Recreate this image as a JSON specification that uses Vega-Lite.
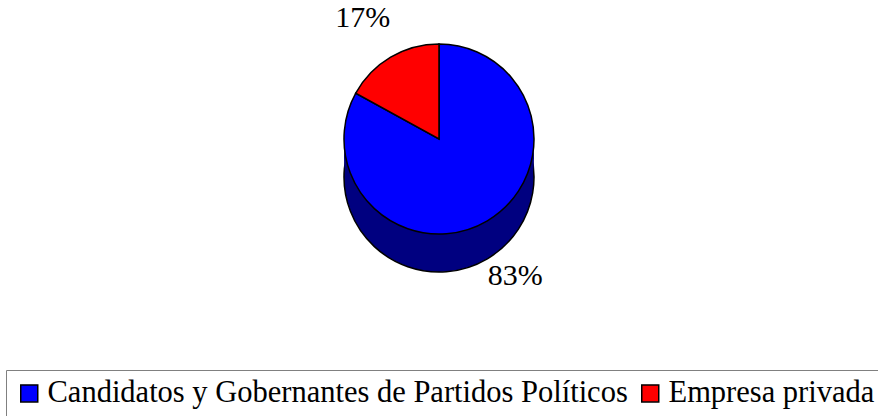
{
  "$schema": "https://vega.github.io/schema/vega-lite/v6.json",
  "width": 878,
  "height": 278,
  "autosize": {"type": "none"},
  "padding": {"left": 0, "top": 0, "right": 0, "bottom": 138},
  "background": "white",
  "data": {
    "values": [
      {"cat": "Candidatos y Gobernantes de Partidos Políticos", "value": 83, "label": "83%"},
      {"cat": "Empresa privada", "value": 17, "label": "17%"}
    ]
  },
  "layer": [
    {
      "mark": {"type": "arc", "outerRadius": 95, "yOffset": 38, "fill": "#000080", "stroke": "black", "strokeWidth": 1.5},
      "encoding": {
        "theta": {"field": "value", "type": "quantitative", "stack": true},
        "order": {"field": "value", "type": "quantitative", "sort": "descending"},
        "detail": {"field": "cat", "type": "nominal"}
      }
    },
    {
      "mark": {"type": "arc", "outerRadius": 95, "yOffset": 19, "fill": "#000080"},
      "encoding": {
        "theta": {"field": "value", "type": "quantitative", "stack": true},
        "order": {"field": "value", "type": "quantitative", "sort": "descending"},
        "detail": {"field": "cat", "type": "nominal"}
      }
    },
    {
      "mark": {"type": "arc", "outerRadius": 95, "stroke": "black", "strokeWidth": 1.5},
      "encoding": {
        "theta": {"field": "value", "type": "quantitative", "stack": true},
        "order": {"field": "value", "type": "quantitative", "sort": "descending"},
        "color": {
          "field": "cat",
          "type": "nominal",
          "scale": {"domain": ["Candidatos y Gobernantes de Partidos Políticos", "Empresa privada"], "range": ["#0000FF", "#FF0000"]},
          "legend": {
            "title": null,
            "orient": "none",
            "legendX": 6,
            "legendY": 370,
            "direction": "horizontal",
            "symbolType": "square",
            "symbolSize": 289,
            "symbolStrokeColor": "black",
            "symbolStrokeWidth": 1.5,
            "symbolOpacity": 1,
            "labelFont": "Liberation Serif",
            "labelFontSize": 30.5,
            "labelColor": "black",
            "labelLimit": 2000,
            "labelOffset": 3,
            "columnPadding": 7,
            "padding": 8,
            "strokeColor": "#808080",
            "fillColor": "white"
          }
        }
      }
    },
    {
      "mark": {"type": "text", "radius": 150, "yOffset": 8, "font": "Liberation Serif", "fontSize": 30, "color": "black", "align": "center", "baseline": "middle"},
      "encoding": {
        "theta": {"field": "value", "type": "quantitative", "stack": true},
        "order": {"field": "value", "type": "quantitative", "sort": "descending"},
        "detail": {"field": "cat", "type": "nominal"},
        "text": {"field": "label", "type": "nominal"}
      }
    }
  ],
  "config": {
    "view": {"stroke": null},
    "font": "Liberation Serif",
    "legend": {"labelFont": "Liberation Serif", "labelFontSize": 30.5, "labelColor": "black"}
  }
}
